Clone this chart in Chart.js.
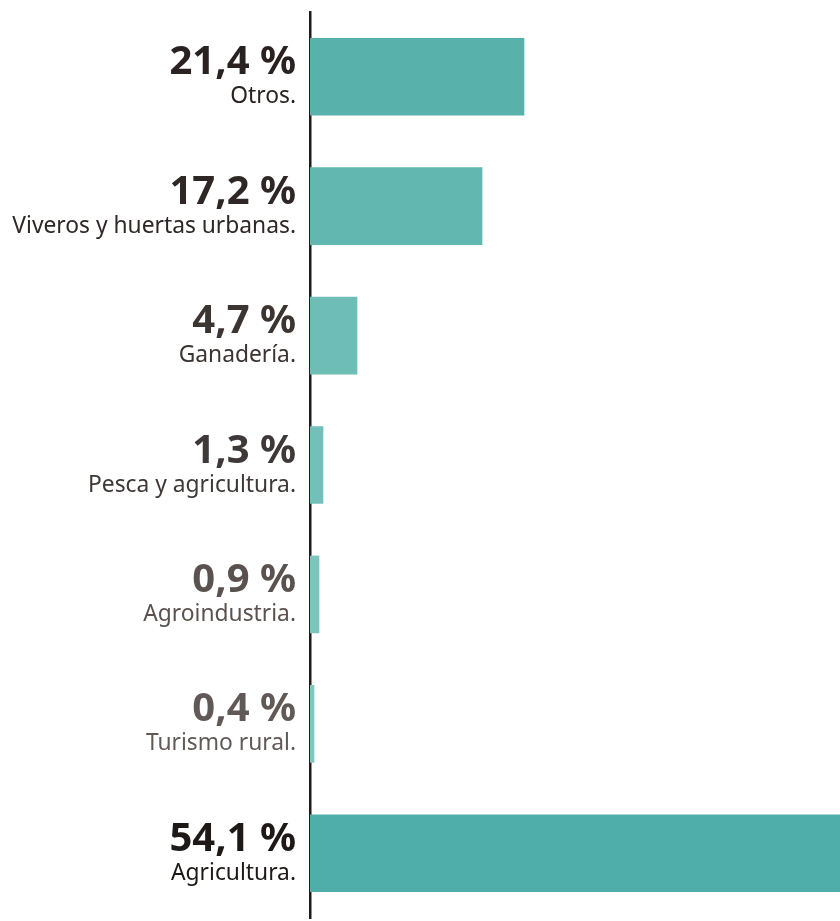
<!DOCTYPE html>
<html>
<head>
<meta charset="utf-8">
<script src="https://cdn.jsdelivr.net/npm/chart.js@4/dist/chart.umd.min.js"></script>
<style>
html,body{margin:0;padding:0;background:#fff;}
#wrap{width:840px;height:921px;position:relative;}
</style>
</head>
<body>
<div id="wrap"><canvas id="c"></canvas></div>
<script>
const categories = ["Otros.", "Viveros y huertas urbanas.", "Ganadería.", "Pesca y agricultura.", "Agroindustria.", "Turismo rural.", "Agricultura."];
const values = [21.4, 17.2, 4.7, 1.3, 0.9, 0.4, 54.1];
const percentLabels = ["21,4 %", "17,2 %", "4,7 %", "1,3 %", "0,9 %", "0,4 %", "54,1 %"];

const barColors = ["#58b2ab", "#62b7b0", "#6ebdb6", "#72c0b9", "#7cc5be", "#80c7c0", "#50aeaa"];
const textColors = ["#2a2220", "#2e2725", "#3b3431", "#3e3836", "#5a524e", "#615955", "#1e1816"];

const labelPlugin = {
  id: 'rowLabels',
  afterDatasetsDraw(chart) {
    const ctx = chart.ctx;
    const yScale = chart.scales.y;
    const x = chart.chartArea.left - 14;
    ctx.save();
    ctx.textAlign = 'right';
    ctx.textBaseline = 'alphabetic';
    categories.forEach((name, i) => {
      const yc = yScale.getPixelForValue(i);
      ctx.fillStyle = textColors[i];
      ctx.font = 'bold 40px "Noto Sans"';
      ctx.fillText(percentLabels[i], x, yc - 2.5);
      ctx.font = '22.8px "Noto Sans"';
      ctx.fillText(name, x, yc + 26.5);
    });
    ctx.restore();
  }
};

new Chart(document.getElementById('c'), {
  type: 'bar',
  data: {
    labels: categories,
    datasets: [{
      data: values,
      backgroundColor: barColors,
      borderWidth: 0,
      barThickness: 77
    }]
  },
  options: {
    indexAxis: 'y',
    responsive: true,
    maintainAspectRatio: false,
    animation: false,
    layout: { padding: { top: 12, bottom: 3, left: 0, right: 0 } },
    plugins: { legend: { display: false }, tooltip: { enabled: false } },
    scales: {
      x: {
        display: false,
        min: 0,
        max: 53
      },
      y: {
        display: true,
        offset: true,
        ticks: { display: false },
        grid: { display: false, drawTicks: false },
        border: { display: true, color: '#231b18', width: 2.5 },
        afterFit(scale) { scale.width = 310; }
      }
    }
  },
  plugins: [labelPlugin]
});
</script>
</body>
</html>
